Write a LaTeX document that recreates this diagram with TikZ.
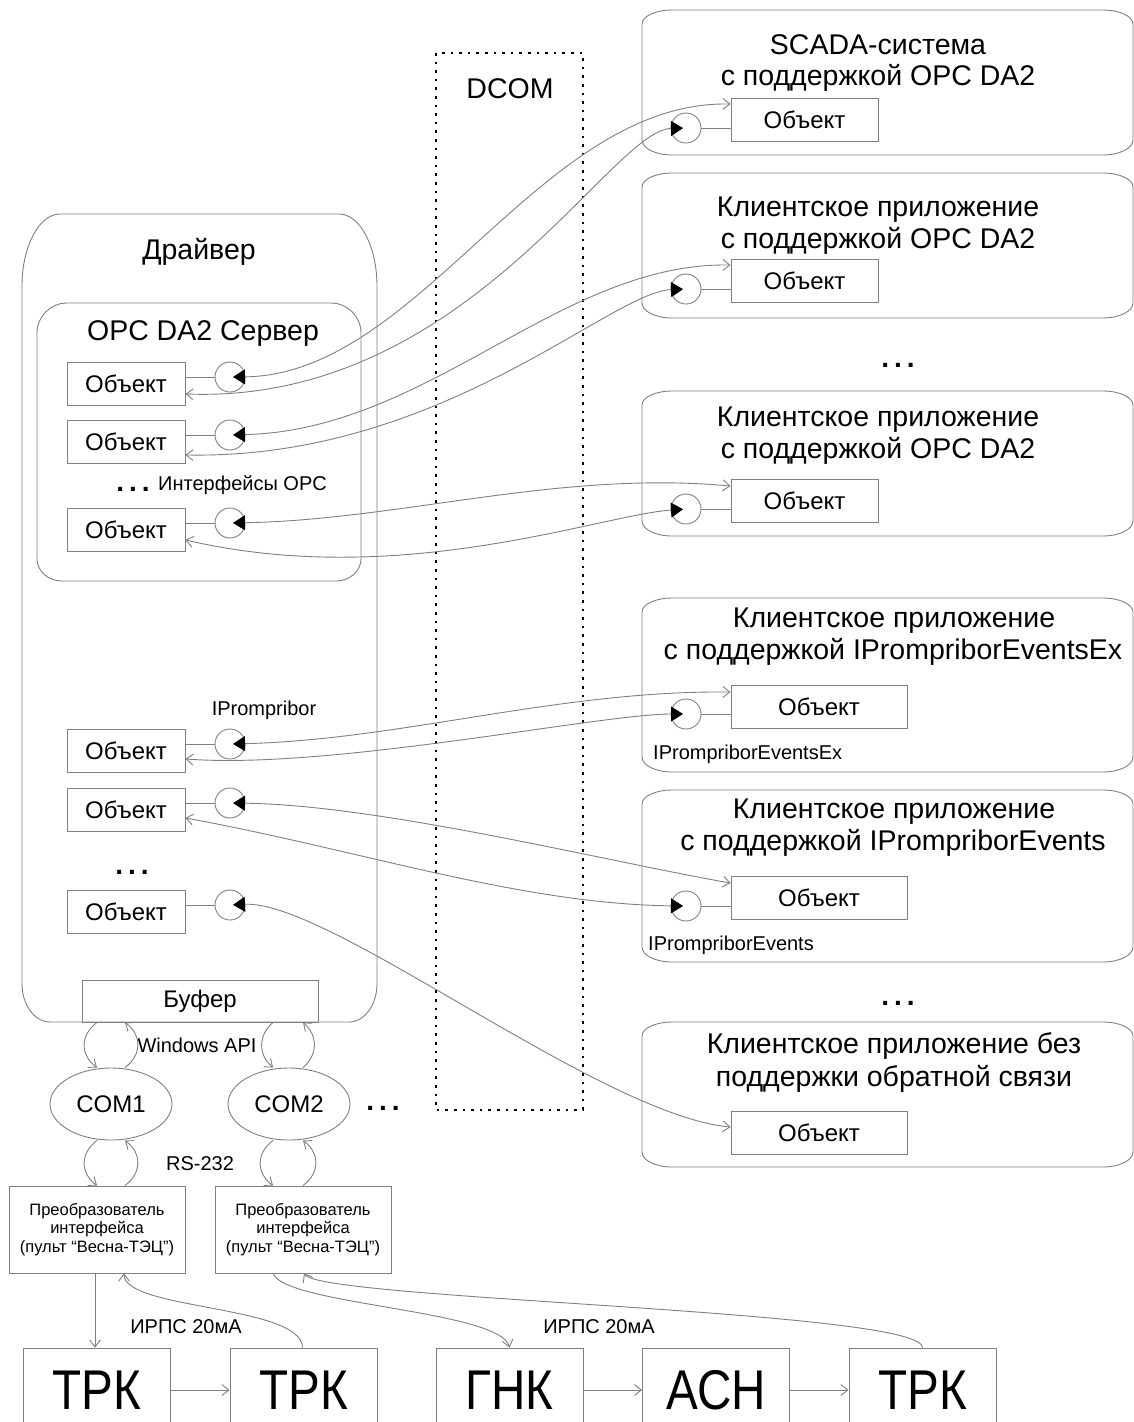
\documentclass[tikz,border=0pt]{standalone}
\usepackage{fontspec}
\usepackage{graphicx}
\setmainfont{Liberation Sans}
\usetikzlibrary{arrows.meta,shapes.geometric,calc}
\newcommand\myrbox[8]{%
\draw[gline] ({#1+#5},#2) -- ({#3-#5},#2)
 .. controls ({#3-0.45*#5},#2) and (#3,{#2+0.45*#6}) .. (#3,{#2+#6})
 -- (#3,{#4-#8})
 .. controls (#3,{#4-0.45*#8}) and ({#3-0.45*#7},#4) .. ({#3-#7},#4)
 -- ({#1+#7},#4)
 .. controls ({#1+0.45*#7},#4) and (#1,{#4-0.45*#8}) .. (#1,{#4-#8})
 -- (#1,{#2+#6})
 .. controls (#1,{#2+0.45*#6}) and ({#1+0.45*#5},#2) .. ({#1+#5},#2) -- cycle;}
\begin{document}
\begin{tikzpicture}[x=1pt,y=-1pt,
 gline/.style={draw=black!50,line width=0.9pt},
 obj/.style={gline,rectangle,minimum height=43pt,inner sep=0pt,font=\fontsize{24}{28}\selectfont},
 sobj/.style={obj,minimum width=118pt},
 cobj/.style={obj,minimum width=147pt},
 eobj/.style={obj,minimum width=176pt},
 sock/.style={gline,circle,minimum size=30pt,inner sep=0pt},
 conn/.style={draw=black!50,line width=0.9pt},
 duplex/.style={conn,shorten <=3pt,{Triangle[length=12pt,width=15pt,color=black]}-{Straight Barb[length=7pt,width=11pt]}},
 openarrow/.style={conn,-{Straight Barb[length=7pt,width=11pt]}},
 ttl/.style={font=\fontsize{28.5}{31}\selectfont,anchor=base,inner sep=0pt},
 lbl/.style={font=\fontsize{20}{24}\selectfont,anchor=base,inner sep=0pt},
 dotsx/.style={font=\fontsize{28}{30}\selectfont\bfseries,anchor=base,inner sep=0pt},
 conv/.style={gline,rectangle,minimum width=176pt,minimum height=87pt,inner sep=0pt,align=center,font=\fontsize{16.5}{18.5}\selectfont},
 bigbox/.style={gline,rectangle,minimum width=147pt,minimum height=84pt,inner sep=0pt,font=\fontsize{56}{60}\selectfont},
]
\useasboundingbox (0,0) rectangle (1134,1422);
\clip (0,0) rectangle (1134,1422);
\fill[white] (0,0) rectangle (1134,1422);

% DCOM
\draw[black,line width=2.6pt,dash pattern=on 2.6pt off 6pt] (436,53) rectangle (583,1110);
\node[ttl] (dcom) at (510,98) {DCOM};

% Driver
\myrbox{22}{214}{377}{1022}{38}{72}{28}{38}
\node[ttl] (drv) at (199,259) {Драйвер};
\myrbox{37}{303}{361}{581}{30}{30}{25}{22}
\node[ttl] (opc) at (203,340) {OPC DA2 Сервер};

% server objects
\node[sobj] (so1) at (126,384) {Объект};
\node[sobj] (so2) at (126,442) {Объект};
\node[sobj] (so3) at (126,530) {Объект};
\node[sobj] (so4) at (126,751) {Объект};
\node[sobj] (so5) at (126,810) {Объект};
\node[sobj] (so6) at (126,912) {Объект};
\node[sock] (s1) at (230,377) {};
\node[sock] (s2) at (230,435) {};
\node[sock] (s3) at (230,523) {};
\node[sock] (s4) at (230,744) {};
\node[sock] (s5) at (230,803) {};
\node[sock] (s6) at (230,905) {};
\foreach \i in {1,...,6}{\draw[gline] (so\i.east |- s\i) -- (s\i.west);}

\node[dotsx] (d1) at (133,491) {.\hspace{5pt}.\hspace{5pt}.};
\node[lbl,anchor=base west] (ifopc) at (158,490) {Интерфейсы OPC};
\node[lbl] (ipr) at (264,715) {IPrompribor};
\node[dotsx] (d2) at (132,874) {.\hspace{5pt}.\hspace{5pt}.};

\node[gline,minimum width=236pt,minimum height=42pt,inner sep=0pt,font=\fontsize{24}{28}\selectfont] (buf) at (200,1001) {Буфер};

% right application boxes
\myrbox{642}{10}{1133}{155}{30}{14}{30}{15}
\node[ttl] (t1a) at (878,54) {SCADA-система};
\node[ttl] (t1b) at (878,85) {с поддержкой OPC DA2};
\myrbox{642}{173}{1133}{318}{30}{14}{30}{15}
\node[ttl] (t2a) at (878,216) {Клиентское приложение};
\node[ttl] (t2b) at (878,248) {с поддержкой OPC DA2};
\node[dotsx] (d3) at (898,367) {.\hspace{5pt}.\hspace{5pt}.};
\myrbox{642}{391}{1133}{536}{30}{14}{30}{15}
\node[ttl] (t3a) at (878,426) {Клиентское приложение};
\node[ttl] (t3b) at (878,458) {с поддержкой OPC DA2};
\myrbox{642}{598}{1133}{772}{30}{14}{30}{15}
\node[ttl] (t4a) at (894,627) {Клиентское приложение};
\node[ttl] (t4b) at (893,659) {с поддержкой IPrompriborEventsEx};
\node[lbl,anchor=base west] (iprex) at (653,759) {IPrompriborEventsEx};
\myrbox{642}{790}{1133}{962}{30}{14}{30}{15}
\node[ttl] (t5a) at (894,818) {Клиентское приложение};
\node[ttl] (t5b) at (893,850) {с поддержкой IPrompriborEvents};
\node[lbl,anchor=base west] (iprev) at (648,950) {IPrompriborEvents};
\node[dotsx] (d4) at (898,1005) {.\hspace{5pt}.\hspace{5pt}.};
\myrbox{642}{1022}{1133}{1167}{30}{14}{30}{15}
\node[ttl] (t6a) at (894,1053) {Клиентское приложение без};
\node[ttl] (t6b) at (894,1086) {поддержки обратной связи};

\node[cobj] (co1) at (804.5,120) {Объект};
\node[cobj] (co2) at (804.5,281) {Объект};
\node[cobj] (co3) at (804.5,501) {Объект};
\node[eobj] (co4) at (819,707) {Объект};
\node[eobj] (co5) at (819,898) {Объект};
\node[eobj] (co6) at (819,1133) {Объект};
\node[sock] (cc1) at (686,128) {};
\node[sock] (cc2) at (686,289) {};
\node[sock] (cc3) at (686,509) {};
\node[sock] (cc4) at (686,714) {};
\node[sock] (cc5) at (686,906) {};
\foreach \i in {1,...,5}{\draw[gline] (cc\i.east) -- (co\i.west |- cc\i);}

% DCOM links
\draw[duplex] (s1.center) .. controls (420,375) and (540,100) .. ([yshift=-6pt]co1.north west);
\draw[duplex] (cc1.center) .. controls (610,130) and (465,405) .. ([yshift=12pt]so1.south east);
\draw[duplex] (s2.center) .. controls (430,430) and (560,262) .. ([yshift=-6pt]co2.north west);
\draw[duplex] (cc2.center) .. controls (610,292) and (440,460) .. ([yshift=9pt]so2.south east);
\draw[duplex] (s3.center) .. controls (400,520) and (560,470) .. ([yshift=-7pt]co3.north west);
\draw[duplex] (cc3.center) .. controls (600,515) and (400,590) .. ([yshift=12pt]so3.south east);
\draw[duplex] (s4.center) .. controls (400,740) and (560,690) .. ([yshift=-7pt]co4.north west);
\draw[duplex] (cc4.center) .. controls (600,714) and (330,770) .. ([yshift=14pt]so4.south east);
\draw[duplex] (s5.center) .. controls (380,805) and (600,860) .. ([yshift=-7pt]co5.north west);
\draw[duplex] (cc5.center) .. controls (520,904) and (360,850) .. ([yshift=14pt]so5.south east);
\draw[duplex] (s6.center) .. controls (330,900) and (600,1115) .. ([yshift=-16pt]co6.north west);

% COM ports
\node[gline,ellipse,minimum width=122pt,minimum height=72pt,inner sep=0pt,font=\fontsize{24}{28}\selectfont] (com1) at (111,1104) {COM1};
\node[gline,ellipse,minimum width=122pt,minimum height=72pt,inner sep=0pt,font=\fontsize{24}{28}\selectfont] (com2) at (289,1104) {COM2};
\node[dotsx] (d5) at (383,1110) {.\hspace{5pt}.\hspace{5pt}.};
\node[lbl] (winapi) at (197,1052) {Windows API};
\node[lbl] (rs) at (200,1170) {RS-232};

\node[conv] (conv1) at (97,1229.5) {Преобразователь\\интерфейса\\(пульт “Весна-ТЭЦ”)};
\node[conv] (conv2) at (303,1229.5) {Преобразователь\\интерфейса\\(пульт “Весна-ТЭЦ”)};

\draw[openarrow] ([xshift=-103pt]buf.south) .. controls (80,1035) and (80,1055) .. ([xshift=-14pt]com1.north);
\draw[openarrow] ([xshift=14pt]com1.north) .. controls (142,1055) and (142,1035) .. ([xshift=-75pt]buf.south);
\draw[openarrow] ([xshift=73pt]buf.south) .. controls (258,1035) and (258,1055) .. ([xshift=-16pt]com2.north);
\draw[openarrow] ([xshift=14pt]com2.north) .. controls (318,1055) and (318,1035) .. ([xshift=103pt]buf.south);
\draw[openarrow] ([xshift=-14pt]com1.south) .. controls (80,1153) and (80,1173) .. (conv1.north);
\draw[openarrow] ([xshift=28pt]conv1.north) .. controls (142,1173) and (142,1153) .. ([xshift=14pt]com1.south);
\draw[openarrow] ([xshift=-16pt]com2.south) .. controls (256,1153) and (256,1173) .. ([xshift=-30pt]conv2.north);
\draw[openarrow] (conv2.north) .. controls (320,1173) and (320,1153) .. ([xshift=14pt]com2.south);

% field devices
\node[bigbox] (trk1) at (96.5,1390) {\scalebox{0.85}[1]{ТРК}};
\node[bigbox] (trk2) at (303.5,1390) {\scalebox{0.85}[1]{ТРК}};
\node[bigbox] (gnk) at (509.5,1390) {\scalebox{0.85}[1]{ГНК}};
\node[bigbox] (asn) at (716,1390) {\scalebox{0.85}[1]{АСН}};
\node[bigbox] (trk3) at (922.5,1390) {\scalebox{0.85}[1]{ТРК}};
\draw[openarrow] (trk1.east) -- (trk2.west);
\draw[openarrow] (gnk.east) -- (asn.west);
\draw[openarrow] (asn.east) -- (trk3.west);
\node[lbl] (irps1) at (186,1333) {ИРПС 20мА};
\node[lbl] (irps2) at (599,1333) {ИРПС 20мА};

\draw[openarrow] ([xshift=-2pt]conv1.south) -- ([xshift=-2pt]conv1.south |- trk1.north);
\draw[openarrow] ([xshift=-1pt]trk2.north) .. controls (302,1305) and (124,1310) .. ([xshift=27pt]conv1.south);
\draw[openarrow] ([xshift=-30pt]conv2.south) .. controls (285,1305) and (500,1310) .. (gnk.north);
\draw[openarrow] (trk3.north) .. controls (922,1310) and (320,1300) .. ([xshift=1pt]conv2.south);
\end{tikzpicture}
\end{document}
